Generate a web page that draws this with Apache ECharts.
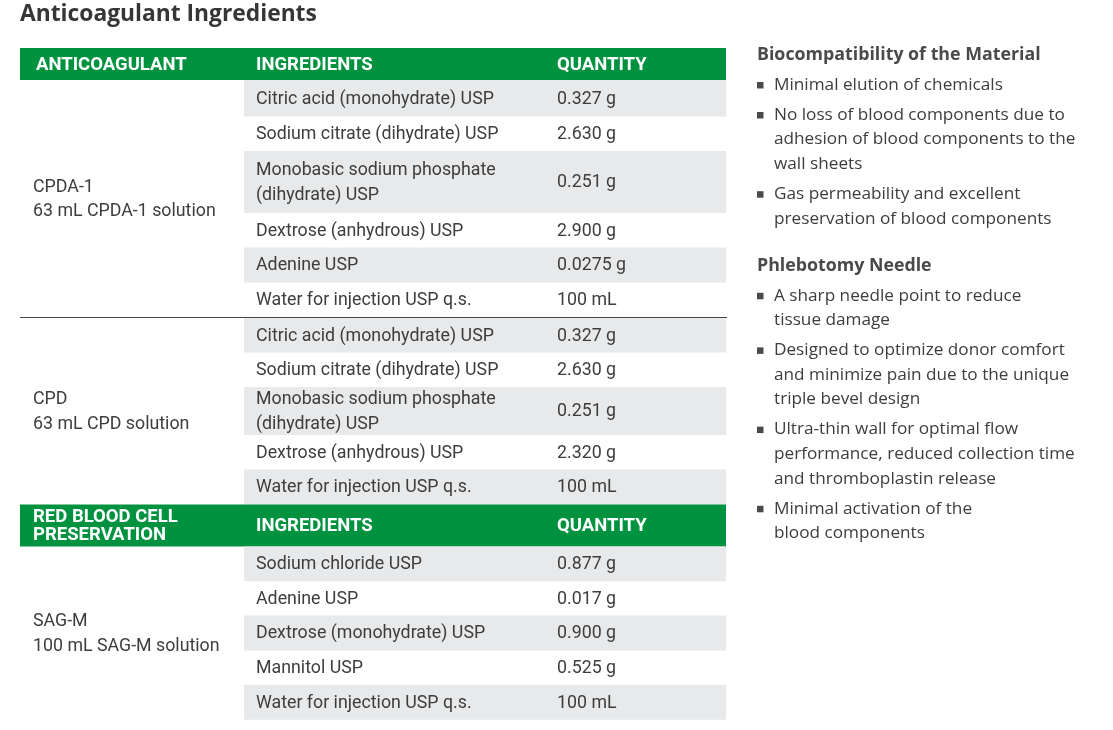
<!DOCTYPE html>
<html>
<head>
<meta charset="utf-8">
<script src="https://cdn.jsdelivr.net/npm/echarts@6/dist/echarts.min.js"></script>
<style>
html,body{margin:0;padding:0;background:#fff;}
#chart{width:1113px;height:730px;}
</style>
</head>
<body>
<div id="chart"></div>
<script>
// ---------- DATA ----------
const pageTitle = 'Anticoagulant Ingredients';
const headerAnticoagulant = ['ANTICOAGULANT', 'INGREDIENTS', 'QUANTITY'];
const headerPreservation = ['RED BLOOD CELL\nPRESERVATION', 'INGREDIENTS', 'QUANTITY'];

const cpda1Label = 'CPDA-1\n63 mL CPDA-1 solution';
const cpda1Ingredients = ['Citric acid (monohydrate) USP', 'Sodium citrate (dihydrate) USP', 'Monobasic sodium phosphate\n(dihydrate) USP', 'Dextrose (anhydrous) USP', 'Adenine USP', 'Water for injection USP q.s.'];
const cpda1Quantities = ['0.327 g', '2.630 g', '0.251 g', '2.900 g', '0.0275 g', '100 mL'];

const cpdLabel = 'CPD\n63 mL CPD solution';
const cpdIngredients = ['Citric acid (monohydrate) USP', 'Sodium citrate (dihydrate) USP', 'Monobasic sodium phosphate\n(dihydrate) USP', 'Dextrose (anhydrous) USP', 'Water for injection USP q.s.'];
const cpdQuantities = ['0.327 g', '2.630 g', '0.251 g', '2.320 g', '100 mL'];

const sagmLabel = 'SAG-M\n100 mL SAG-M solution';
const sagmIngredients = ['Sodium chloride USP', 'Adenine USP', 'Dextrose (monohydrate) USP', 'Mannitol USP', 'Water for injection USP q.s.'];
const sagmQuantities = ['0.877 g', '0.017 g', '0.900 g', '0.525 g', '100 mL'];

const bioHeading = 'Biocompatibility of the Material';
const bioBullets = ['Minimal elution of chemicals', 'No loss of blood components due to\nadhesion of blood components to the\nwall sheets', 'Gas permeability and excellent\npreservation of blood components'];
const needleHeading = 'Phlebotomy Needle';
const needleBullets = ['A sharp needle point to reduce\ntissue damage', 'Designed to optimize donor comfort\nand minimize pain due to the unique\ntriple bevel design', 'Ultra-thin wall for optimal flow\nperformance, reduced collection time\nand thromboplastin release', 'Minimal activation of the\nblood components'];

// ---------- LAYOUT / STYLE ----------
const L = {
  left: 20, right: 726, top: 48, bottom: 719.5,
  col1: 244, textCol0: 33, textCol1: 256, textCol2: 557,
  header1H: 32, header2H: 42,
  g1Heights: [36.5, 34.5, 62, 34.5, 35, 35],
  g2Heights: [34.5, 34.5, 48, 34.5, 35],
  g3Heights: [34.7, 34.3, 35, 34.3, 35],
  green: '#00923f', gray: '#e8e9ea', text: '#3d3d3d', sep: '#454545',
  bodyFont: 'Roboto', bodySize: 17.8, headFont: 'Roboto', headSize: 18.5,
  sideFont: 'Open Sans'
};

// build cell list (values are in page-pixel units of the hidden value axes)
const cells = [];
let y = L.top;
function addHeader(texts, h, pad0) {
  cells.push({kind: 'header', texts, y0: y, y1: y + h, pad0});
  y += h;
}
function addGroup(label, ings, qtys, heights) {
  const gy0 = y;
  ings.forEach((ing, i) => {
    cells.push({kind: 'row', ing, qty: qtys[i], y0: y, y1: y + heights[i], shaded: i % 2 === 0});
    y += heights[i];
  });
  cells.push({kind: 'label', text: label, y0: gy0, y1: y});
}
addHeader(headerAnticoagulant, L.header1H, 36);
addGroup(cpda1Label, cpda1Ingredients, cpda1Quantities, L.g1Heights);
cells.push({kind: 'sep', y0: y, y1: y});
y += 0.5;
addGroup(cpdLabel, cpdIngredients, cpdQuantities, L.g2Heights);
addHeader(headerPreservation, L.header2H, 33);
addGroup(sagmLabel, sagmIngredients, sagmQuantities, L.g3Heights);

function txt(text, x, yy, opts) {
  return {
    type: 'text',
    style: Object.assign({
      text, x, y: yy, fill: L.text,
      fontFamily: L.bodyFont, fontSize: L.bodySize, fontWeight: 'normal',
      align: 'left', verticalAlign: 'middle', lineHeight: 25
    }, opts || {})
  };
}

function renderItem(params, api) {
  const c = cells[params.dataIndex];
  const pL = api.coord([L.left, c.y0]);
  const pR = api.coord([L.right, c.y1]);
  const pC1 = api.coord([L.col1, c.y0]);
  const midY = (pL[1] + pR[1]) / 2;
  const x0 = api.coord([L.textCol0, c.y0])[0];
  const x1 = api.coord([L.textCol1, c.y0])[0];
  const x2 = api.coord([L.textCol2, c.y0])[0];
  if (c.kind === 'header') {
    const hs = {fill: '#fff', fontFamily: L.headFont, fontSize: L.headSize, fontWeight: 'bold', lineHeight: 18};
    const xh = api.coord([c.pad0, c.y0])[0];
    return {type: 'group', children: [
      {type: 'rect', shape: {x: pL[0], y: pL[1], width: pR[0] - pL[0], height: pR[1] - pL[1]}, style: {fill: L.green}},
      txt(c.texts[0], xh, midY + 1, hs),
      txt(c.texts[1], x1, midY + 1, hs),
      txt(c.texts[2], x2, midY + 1, hs)
    ]};
  }
  if (c.kind === 'row') {
    const ch = [];
    if (c.shaded) ch.push({type: 'rect', shape: {x: pC1[0], y: pL[1], width: pR[0] - pC1[0], height: pR[1] - pL[1]}, style: {fill: L.gray}});
    ch.push(txt(c.ing, x1, midY + 1));
    ch.push(txt(c.qty, x2, midY + 1));
    return {type: 'group', children: ch};
  }
  if (c.kind === 'label') {
    return txt(c.text, x0, midY + 1, {lineHeight: 24.5});
  }
  if (c.kind === 'sep') {
    return {type: 'line', shape: {x1: pL[0], y1: pL[1], x2: pR[0] + 1, y2: pL[1]}, style: {stroke: L.sep, lineWidth: 1.2}};
  }
}

// side panel: each text line placed at its own centre line
const sideGraphics = [];
let sy = 55;
const SIDE_LH = 24.6;
function sideLine(t, x, yy, font, color) {
  sideGraphics.push({type: 'text', x, y: yy, style: {text: t, fill: color, font, verticalAlign: 'middle', align: 'left'}});
}
function sideHeading(t) {
  sideLine(t, 757, sy, 'bold 17.8px "Open Sans"', '#4a4a4a');
  sy += 30;
}
function sideBullets(items) {
  items.forEach((it, idx) => {
    const lines = it.split('\n');
    sideGraphics.push({type: 'rect', x: 757, y: sy - 3, shape: {width: 6.5, height: 6.5}, style: {fill: '#4a4a4a'}});
    lines.forEach((ln, j) => sideLine(ln, 774, sy + j * SIDE_LH, '17.2px "Open Sans"', '#3d3d3d'));
    sy += (lines.length - 1) * SIDE_LH + (idx < items.length - 1 ? 30 : 0);
  });
}
sideHeading(bioHeading);
sideBullets(bioBullets);
sy += 47;
sideHeading(needleHeading);
sideBullets(needleBullets);

const chart = echarts.init(document.getElementById('chart'), null, {renderer: 'canvas'});
chart.setOption({
  animation: false,
  title: {text: pageTitle, left: 20, top: 3, padding: 0, textStyle: {fontFamily: 'Open Sans', fontWeight: 'bold', fontSize: 22.8, color: '#363636'}},
  grid: {left: L.left, top: L.top, width: L.right - L.left, height: L.bottom - L.top, containLabel: false},
  xAxis: {type: 'value', min: L.left, max: L.right, show: false},
  yAxis: {type: 'value', min: L.top, max: L.bottom, inverse: true, show: false},
  series: [{
    type: 'custom', silent: true, clip: false,
    renderItem,
    data: cells.map(c => [L.left, c.y0, L.right, c.y1])
  }],
  graphic: sideGraphics
});
</script>
</body>
</html>
